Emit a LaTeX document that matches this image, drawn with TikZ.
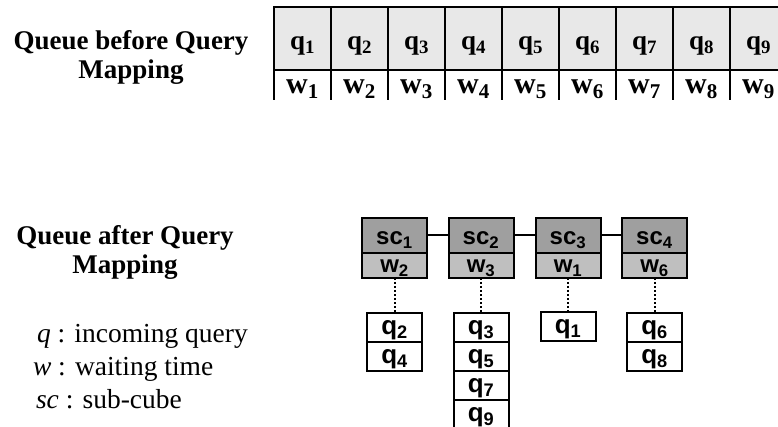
\documentclass[tikz,border=0pt]{standalone}
\usepackage{fontspec}
\setmainfont{Liberation Serif}
\newfontfamily\arialfont{Liberation Sans}
\usetikzlibrary{positioning}
\begin{document}
\begin{tikzpicture}[x=1pt, y=-1pt, line width=2pt, node distance=0pt,
	every node/.style={inner sep=0pt, outer sep=0pt},
	qcell/.style={draw, fill=gray!18, minimum width=57pt, minimum height=63pt,
		text height=24pt, text depth=1pt, font=\fontsize{27}{28}\selectfont\bfseries},
	wcell/.style={draw, fill=white, minimum width=57pt, minimum height=31pt,
		text height=19pt, text depth=3pt, font=\fontsize{30}{32}\selectfont\bfseries},
	title/.style={align=center, font=\fontsize{27}{29}\selectfont\bfseries},
	legend/.style={anchor=base west, font=\fontsize{27.5}{29}\selectfont},
	cube/.style={draw, fill=gray!75, minimum width=65pt, minimum height=35pt,
		text height=20pt, text depth=1pt, font=\arialfont\bfseries\fontsize{24}{26}\selectfont},
	wait/.style={draw, fill=gray!50, minimum width=65pt, minimum height=25pt,
		text height=16pt, text depth=2pt, font=\arialfont\bfseries\fontsize{24}{26}\selectfont},
	query/.style={draw, fill=white, minimum width=55pt, minimum height=29pt,
		text height=17pt, text depth=3pt, font=\arialfont\bfseries\fontsize{26}{28}\selectfont},
	link/.style={dash pattern=on 2pt off 2pt, line width=2pt}]
	\useasboundingbox (0,0) rectangle (778,427);

	% queue before mapping
	\node[title] (before) at (131,57) {Queue before Query\\Mapping};
	\begin{scope}
		\clip (0,0) rectangle (778,99.5);
		\foreach \i in {1,...,9} {
			\node[qcell] (q\i) at ({245.5+57*\i},38.5) {q\textsubscript{\i}};
			\node[wcell, below=of q\i] (w\i) {w\textsubscript{\i}};
		}
	\end{scope}

	% queue after mapping
	\node[title] (after) at (125,252) {Queue after Query\\Mapping};
	\node[legend] (lq) at (37,342) {\textit{q} : incoming query};
	\node[legend] (lw) at (33,375) {\textit{w} : waiting time};
	\node[legend] (lsc) at (36,408) {\textit{sc} : sub-cube};

	\node[cube] (sc1) at (394.5,235.5) {sc\textsubscript{1}};
	\node[cube] (sc2) at (481,235.5) {sc\textsubscript{2}};
	\node[cube] (sc3) at (568,235.5) {sc\textsubscript{3}};
	\node[cube] (sc4) at (654.5,235.5) {sc\textsubscript{4}};
	\node[wait, below=of sc1] (t1) {w\textsubscript{2}};
	\node[wait, below=of sc2] (t2) {w\textsubscript{3}};
	\node[wait, below=of sc3] (t3) {w\textsubscript{1}};
	\node[wait, below=of sc4] (t4) {w\textsubscript{6}};

	\node[query, below=35pt of t1] (m2) {q\textsubscript{2}};
	\node[query, below=of m2] (m4) {q\textsubscript{4}};
	\node[query, below=35pt of t2] (m3) {q\textsubscript{3}};
	\node[query, below=of m3] (m5) {q\textsubscript{5}};
	\node[query, below=of m5] (m7) {q\textsubscript{7}};
	\node[query, below=of m7] (m9) {q\textsubscript{9}};
	\node[query, below=34pt of t3] (m1) {q\textsubscript{1}};
	\node[query, below=35pt of t4] (m6) {q\textsubscript{6}};
	\node[query, below=of m6] (m8) {q\textsubscript{8}};

	\draw (sc1) -- (sc2);
	\draw (sc2) -- (sc3);
	\draw (sc3) -- (sc4);
	\draw[link] (t1) -- (m2);
	\draw[link] (t2) -- (m3);
	\draw[link] (t3) -- (m1);
	\draw[link] (t4) -- (m6);
\end{tikzpicture}
\end{document}
